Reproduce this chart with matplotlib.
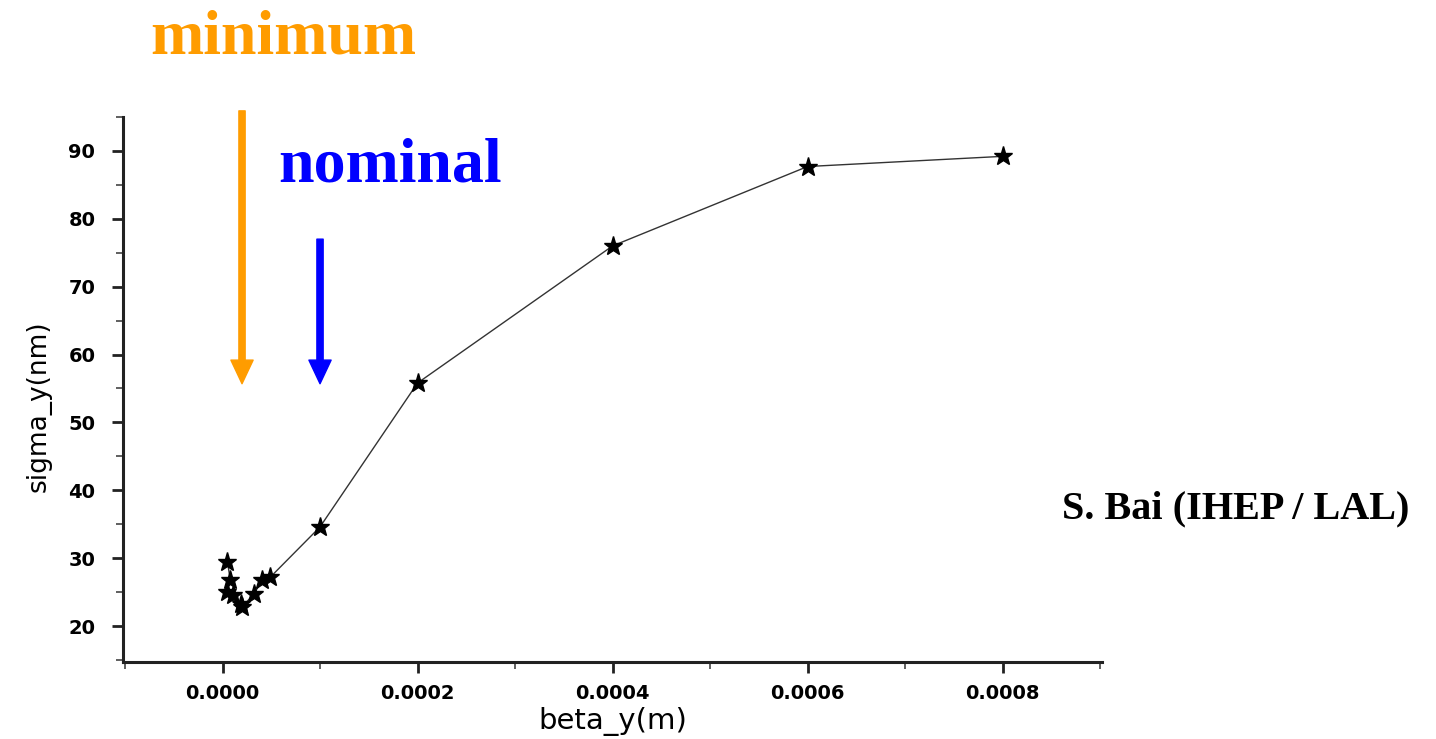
import matplotlib.pyplot as plt
from matplotlib.ticker import MultipleLocator, FormatStrFormatter

# beta_y (m) vs sigma_y (nm)
beta_y = [0.000005, 0.000008, 0.000005, 0.000011, 0.0000185, 0.00002,
          0.000032, 0.000041, 0.000049, 0.0001, 0.0002, 0.0004, 0.0006, 0.0008]
sigma_y = [29.5, 26.8, 25.0, 24.6, 23.2, 22.8,
           24.7, 26.8, 27.2, 34.6, 55.8, 76.0, 87.7, 89.2]

beta_min = 0.00002
beta_nominal = 0.0001

ORANGE = '#ff9c00'
BLUE = '#0000ff'


def main():
    fig = plt.figure(figsize=(14.36, 7.39), dpi=100)
    ax = fig.add_axes([0.0857, 0.1042, 0.6817, 0.7375])

    ax.plot(beta_y, sigma_y, color='#333333', lw=1.0, marker='*',
            markersize=14, markerfacecolor='black', markeredgecolor='black')

    ax.set_xlim(-0.000102, 0.000902)
    ax.set_ylim(14.7, 95.0)
    ax.xaxis.set_major_locator(MultipleLocator(0.0002))
    ax.xaxis.set_minor_locator(MultipleLocator(0.0001))
    ax.yaxis.set_major_locator(MultipleLocator(10))
    ax.yaxis.set_minor_locator(MultipleLocator(5))
    ax.xaxis.set_major_formatter(FormatStrFormatter('%.4f'))
    ax.set_yticks(range(20, 100, 10))

    for side in ['top', 'right']:
        ax.spines[side].set_visible(False)
    for side in ['left', 'bottom']:
        ax.spines[side].set_linewidth(2.2)
        ax.spines[side].set_color('#222222')

    ax.tick_params(which='major', direction='out', length=8, width=2,
                   color='#222222', labelsize=14)
    ax.tick_params(which='minor', direction='out', length=5, width=1.2,
                   color='#444444')
    ax.tick_params(axis='y', pad=12)
    ax.tick_params(axis='x', pad=8)
    for lab in ax.get_xticklabels() + ax.get_yticklabels():
        lab.set_fontweight('bold')

    ax.set_xlabel('beta_y(m)', fontsize=21, labelpad=3)
    ax.set_ylabel('sigma_y(nm)', fontsize=19, labelpad=12)
    ax.yaxis.label.set_y(0.47)

    # arrows pointing at the minimum and nominal beta_y
    ax.annotate('', xy=(beta_min, 55.7), xytext=(beta_min, 95.9),
                annotation_clip=False,
                arrowprops=dict(color=ORANGE, width=4.5, headwidth=16,
                                headlength=17, shrink=0))
    ax.annotate('', xy=(beta_nominal, 55.7), xytext=(beta_nominal, 77.0),
                annotation_clip=False,
                arrowprops=dict(color=BLUE, width=4.5, headwidth=16,
                                headlength=17, shrink=0))

    serif = ['Liberation Serif', 'DejaVu Serif']
    fig.text(150 / 1436, 1 - 53 / 739, 'minimum', color=ORANGE,
             fontsize=46, fontweight='bold', family=serif, va='baseline')
    fig.text(278 / 1436, 1 - 182 / 739, 'nominal', color=BLUE,
             fontsize=46, fontweight='bold', family=serif, va='baseline')
    fig.text(1062 / 1436, 1 - 518 / 739, 'S. Bai (IHEP / LAL)', color='black',
             fontsize=29, fontweight='bold', family=serif, va='baseline')

    plt.savefig('out.png', dpi=100)


if __name__ == "__main__":
    main()
